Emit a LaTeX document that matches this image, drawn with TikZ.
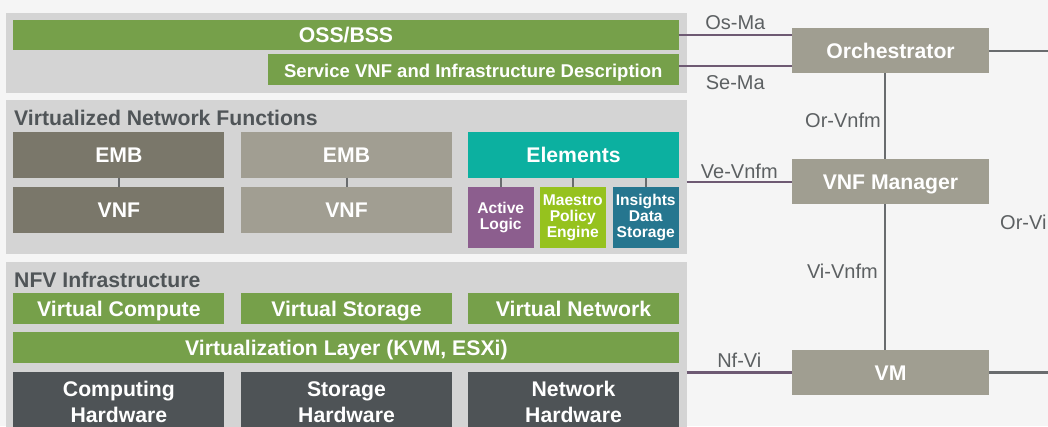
\documentclass[tikz,border=0pt]{standalone}
\usepackage{fontspec}
\setmainfont{Liberation Sans}
\usetikzlibrary{positioning}
\definecolor{bgc}{RGB}{245,245,245}
\definecolor{panelc}{RGB}{212,212,212}
\definecolor{grn}{RGB}{118,160,74}
\definecolor{embd}{RGB}{122,119,106}
\definecolor{embl}{RGB}{161,158,146}
\definecolor{elemc}{RGB}{12,176,160}
\definecolor{actc}{RGB}{140,94,142}
\definecolor{maec}{RGB}{150,194,30}
\definecolor{insc}{RGB}{38,118,143}
\definecolor{hwc}{RGB}{78,83,86}
\definecolor{manoc}{RGB}{160,158,145}
\definecolor{purp}{RGB}{110,90,115}
\definecolor{lgry}{RGB}{105,108,110}
\definecolor{ttl}{RGB}{80,85,88}
\definecolor{ifc}{RGB}{92,96,98}
\newcommand{\boxfont}{\fontsize{21.2}{26}\selectfont\bfseries}
\newcommand{\descfont}{\fontsize{18.5}{22}\selectfont\bfseries}
\newcommand{\smallboxfont}{\fontsize{15.6}{16}\selectfont\bfseries}
\newcommand{\ifacefont}{\fontsize{20}{24}\selectfont}

\begin{document}
\begin{tikzpicture}[x=1pt,y=-1pt]
\tikzstyle{panel}=[rectangle, fill=panelc, anchor=north west, inner sep=0, outer sep=0]
\tikzstyle{blk}=[rectangle, anchor=north west, inner sep=0, outer sep=0, text=white, font=\boxfont, align=center]
\tikzstyle{bar}=[blk, fill=grn, minimum height=30.4pt, text height=15pt, text depth=0pt]
\tikzstyle{vbox}=[blk, minimum width=211pt, minimum height=45.4pt, text height=15pt, text depth=0pt]
\tikzstyle{sbox}=[blk, font=\smallboxfont, minimum width=65.5pt, minimum height=60.4pt]
\tikzstyle{hwbox}=[blk, fill=hwc, minimum width=211pt, minimum height=60pt]
\tikzstyle{mano}=[blk, fill=manoc, minimum width=197pt, minimum height=45pt, text height=15pt, text depth=0pt]
\tikzstyle{title}=[anchor=base west, inner sep=0, font=\boxfont, text=ttl]
\tikzstyle{iface}=[font=\ifacefont, text=ifc, inner sep=1pt]
\tikzstyle{link}=[line width=2.5pt, purp]
\tikzstyle{ref}=[line width=2.5pt, lgry]
\tikzstyle{tie}=[line width=2pt, lgry]

	\useasboundingbox (0,0) rectangle (1048,426);
	\fill[bgc] (0,0) rectangle (1048,426);

	% management layer
	\node[panel, minimum width=680.8pt, minimum height=79.4pt] (pmgmt) at (5.8,13.3) {};
	\node[bar, minimum width=665.2pt] (oss) at (13.4,20) {OSS/BSS};
	\node[bar, minimum width=410.6pt, font=\descfont] (svc) at (268,54.3) {Service VNF and Infrastructure Description};

	% virtualized network functions
	\node[panel, minimum width=680.6pt, minimum height=154pt] (pvnf) at (6,100) {};
	\node[title] (tvnf) at (14,125.5) {Virtualized Network Functions};
	\node[vbox, fill=embd] (emb1) at (13.4,132.3) {EMB};
	\node[vbox, fill=embd] (vnf1) at (13.4,187.3) {VNF};
	\node[vbox, fill=embl] (emb2) at (241,132.3) {EMB};
	\node[vbox, fill=embl] (vnf2) at (241,187.3) {VNF};
	\node[vbox, fill=elemc] (elem) at (468,132.3) {Elements};
	\node[sbox, fill=actc] (act) at (468,187.3) {Active\\Logic};
	\node[sbox, fill=maec] (mae) at (540,187.3) {Maestro\\Policy\\Engine};
	\node[sbox, fill=insc] (ins) at (613,187.3) {Insights\\Data\\Storage};

	% nfv infrastructure
	\node[panel, minimum width=680.6pt, minimum height=200pt] (pnfvi) at (6,261.7) {};
	\node[title] (tnfvi) at (14,287.5) {NFV Infrastructure};
	\node[bar, minimum width=211pt] (vcomp) at (13.4,293.3) {Virtual Compute};
	\node[bar, minimum width=211pt] (vstor) at (241,293.3) {Virtual Storage};
	\node[bar, minimum width=211pt] (vnet) at (468,293.3) {Virtual Network};
	\node[bar, minimum width=666pt] (vlay) at (13.4,332.3) {Virtualization Layer (KVM, ESXi)};
	\node[hwbox] (hwc) at (13.4,371.7) {Computing\\Hardware};
	\node[hwbox] (hws) at (241,371.7) {Storage\\Hardware};
	\node[hwbox] (hwn) at (468,371.7) {Network\\Hardware};

	% mano
	\node[mano] (orch) at (792,28.3) {Orchestrator};
	\node[mano] (mgr) at (792,159.3) {VNF Manager};
	\node[mano] (vm) at (792,350) {VM};
	\coordinate (redge) at (1060,0);
	\node[iface, anchor=west] (orvi) at (999,222) {Or-Vi};

	\path[tie]
		(emb1) edge [] (vnf1)
		(emb2) edge [] (vnf2)
		(act.north) edge [] (act.north |- elem.south)
		(mae.north) edge [] (mae.north |- elem.south)
		(ins.north) edge [] (ins.north |- elem.south);

	\path[link]
		(oss.east) edge node[iface, above=3pt] {Os-Ma} (oss.east -| orch.west)
		([yshift=3.5pt]svc.east) edge node[iface, below=7pt] {Se-Ma} ([yshift=3.5pt]svc.east -| orch.west)
		(pvnf.east |- mgr.west) edge node[iface, above=1pt] {Ve-Vnfm} (mgr.west)
		(pnfvi.east |- vm.west) edge node[iface, above=3pt] {Nf-Vi} (vm.west);

	\path[ref]
		([xshift=-5.5pt]orch.south) edge node[iface, left=2pt, pos=0.55] {Or-Vnfm} ([xshift=-5.5pt]mgr.north)
		([xshift=-5.5pt]mgr.south) edge node[iface, left=5pt, pos=0.46] {Vi-Vnfm} ([xshift=-5.5pt]vm.north)
		(orch.east) edge [] (orch.east -| redge)
		(vm.east) edge [] (vm.east -| redge);

\end{tikzpicture}
\end{document}
